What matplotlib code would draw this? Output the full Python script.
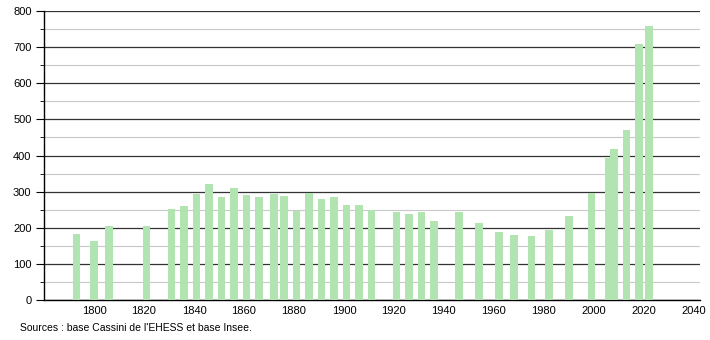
import numpy as np
import matplotlib
matplotlib.use("Agg")
import matplotlib.pyplot as plt
from matplotlib.ticker import MultipleLocator

plt.rcParams["font.family"] = ["Liberation Sans", "DejaVu Sans"]

# census years and population
years = [1793, 1800, 1806, 1821, 1831, 1836, 1841, 1846, 1851, 1856,
         1861, 1866, 1872, 1876, 1881, 1886, 1891, 1896, 1901, 1906,
         1911, 1921, 1926, 1931, 1936, 1946, 1954, 1962, 1968, 1975,
         1982, 1990, 1999, 2006, 2008, 2013, 2018, 2022]
population = [182, 163, 206, 204, 252, 260, 294, 322, 285, 310,
              292, 285, 294, 288, 247, 297, 280, 285, 264, 264,
              250, 243, 237, 244, 219, 244, 213, 188, 181, 176,
              193, 232, 297, 392, 418, 470, 710, 758]

source_text = "Sources : base Cassini de l'EHESS et base Insee."

fig = plt.figure(figsize=(7.1, 3.4), dpi=100)
ax = fig.add_axes([0.062, 0.1176, 0.924, 0.85])

ax.bar(years, population, width=3.0, color="#b2e4b2", zorder=3)

ax.set_xlim(1780, 2042.5)
ax.set_ylim(0, 800)
ax.xaxis.set_major_locator(MultipleLocator(20))
ax.xaxis.set_major_formatter(lambda v, p: "" if v < 1800 else f"{int(v)}")
ax.yaxis.set_major_locator(MultipleLocator(100))
ax.yaxis.set_minor_locator(MultipleLocator(50))

ax.grid(axis="y", which="major", color="#333333", linewidth=0.9, zorder=1)
ax.grid(axis="y", which="minor", color="#c8c8c8", linewidth=0.8, zorder=1)

for s in ["top", "right"]:
    ax.spines[s].set_visible(False)
ax.spines["left"].set_linewidth(1.0)
ax.spines["bottom"].set_linewidth(1.0)

ax.tick_params(axis="x", length=0, labelsize=8, pad=4)
ax.tick_params(axis="y", which="major", length=6, labelsize=8, pad=3)
ax.tick_params(axis="y", which="minor", length=3)

fig.text(20 / 710, 1 - 328 / 340, source_text, fontsize=7.5, va="center", ha="left")

fig.savefig("out.png", dpi=100)
